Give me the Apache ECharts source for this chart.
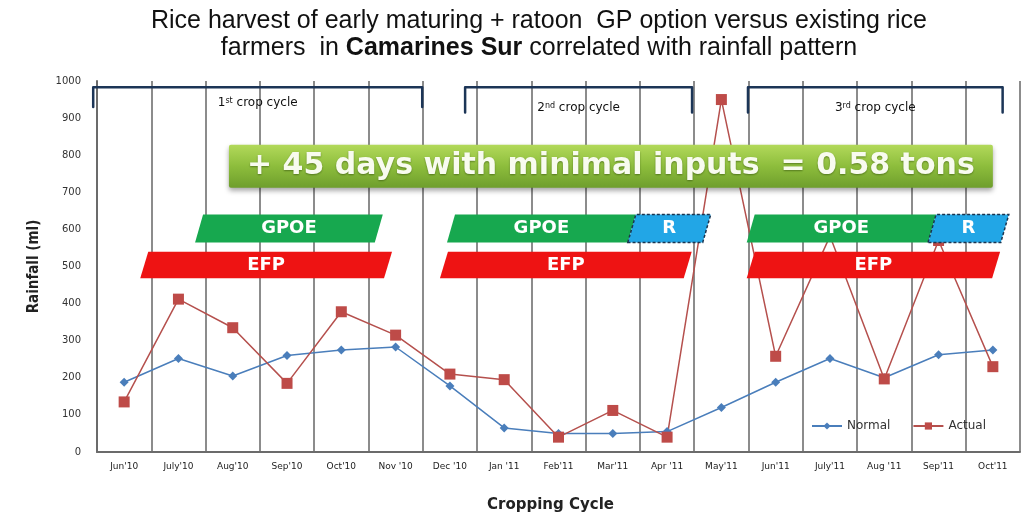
<!DOCTYPE html>
<html>
<head>
<meta charset="utf-8">
<title>Rainfall vs cropping cycle</title>
<script src="https://cdn.jsdelivr.net/npm/echarts@6.0.0/dist/echarts.min.js"></script>
<style>
  html, body { margin: 0; padding: 0; background: #fff; }
  #chart { width: 1022px; height: 518px; }
</style>
</head>
<body>
<div id="chart"></div>
<script>
// x axis months
var months = ["Jun'10", "July'10", "Aug'10", "Sep'10", "Oct'10", "Nov '10", "Dec '10", "Jan '11", "Feb'11",
  "Mar'11", "Apr '11", "May'11", "Jun'11", "July'11", "Aug '11", "Sep'11", "Oct'11"];
// rainfall (ml)
var normal = [188, 252, 205, 260, 275, 283, 178, 65, 50, 50, 55, 120, 188, 252, 200, 262, 275];
var actual = [135, 412, 335, 185, 378, 315, 210, 195, 40, 112, 40, 950, 258, 582, 197, 570, 230];
// y axis ticks
var yMin = 0, yMax = 1000, yStep = 100;

// annotations, x in month units (0 = left edge, 17 = right edge), y in ml
// [start, end, low, high]
var gpoeBands = [[1.88, 5.19, 565, 640], [6.52, 9.85, 565, 640], [12.04, 15.38, 565, 640]];
var ratoonBands = [[9.85, 11.23, 565, 640], [15.38, 16.72, 565, 640]];
var efpBands = [[0.87, 5.36, 468, 540], [6.39, 10.88, 468, 540], [12.04, 16.56, 468, 540]];
// [start, end, top, end of the drop, label y]
var cycleSpans = [[-0.07, 5.99, 983, 930, 941], [6.78, 10.96, 983, 915, 927], [11.99, 16.68, 983, 915, 927]];
var cycleNum = ['1', '2', '3'];
var cycleSuffix = ['st', 'nd', 'rd'];
var banner = [[2.43, 16.5, 712, 828]];
var bannerText = '+ 45 days with minimal inputs  = 0.58 tons';

var SKEW = 4;

// parallelogram phase bar
function bandItem (fill, label, dashed) {
  return function (params, api) {
    var a = api.coord([api.value(0), api.value(2)]);
    var b = api.coord([api.value(1), api.value(3)]);
    var pts = [[a[0] - SKEW, a[1]], [a[0] + SKEW, b[1]], [b[0] + SKEW, b[1]], [b[0] - SKEW, a[1]]];
    return {
      type: 'polygon',
      shape: { points: pts },
      style: {
        fill: fill,
        stroke: dashed ? '#1b3550' : null,
        lineWidth: dashed ? 1.5 : 0,
        lineDash: dashed ? [3, 2] : null
      },
      textContent: {
        style: { text: label, fill: '#fff', fontSize: 18, fontWeight: 'bold', fontFamily: 'DejaVu Sans' }
      },
      textConfig: { position: 'inside' }
    };
  };
}

function renderBanner (params, api) {
  var a = api.coord([api.value(0), api.value(2)]);
  var b = api.coord([api.value(1), api.value(3)]);
  return {
    type: 'rect',
    shape: { x: a[0], y: b[1], width: b[0] - a[0], height: a[1] - b[1], r: 2 },
    style: {
      fill: new echarts.graphic.LinearGradient(0, 0, 0, 1, [
        { offset: 0, color: '#b2d95a' },
        { offset: 0.5, color: '#8dbd3c' },
        { offset: 1, color: '#6e9e2c' }
      ]),
      shadowBlur: 5,
      shadowOffsetY: 3,
      shadowColor: 'rgba(0,0,0,0.35)'
    },
    textContent: {
      style: {
        text: bannerText, fill: '#f8fbef', fontSize: 30, fontWeight: 'bold', fontFamily: 'DejaVu Sans',
        textShadowColor: 'rgba(50,80,10,0.6)', textShadowBlur: 2, textShadowOffsetY: 1
      }
    },
    textConfig: { position: 'inside' }
  };
}

function renderBracket (params, api) {
  var x0 = api.value(0), x1 = api.value(1);
  var p0 = api.coord([x0, api.value(3)]);
  var p1 = api.coord([x0, api.value(2)]);
  var p2 = api.coord([x1, api.value(2)]);
  var p3 = api.coord([x1, api.value(3)]);
  var ly = api.coord([x0, api.value(4)])[1];
  var i = params.dataIndex;
  return {
    type: 'group',
    children: [{
      type: 'polyline',
      shape: { points: [p0, p1, p2, p3] },
      style: { stroke: '#1c3557', lineWidth: 2.5, fill: null, lineJoin: 'round', lineCap: 'round' }
    }, {
      type: 'text',
      x: (p1[0] + p2[0]) / 2,
      y: ly,
      style: {
        text: '{n|' + cycleNum[i] + '}{s|' + cycleSuffix[i] + '}{n| crop cycle}',
        align: 'center',
        verticalAlign: 'middle',
        rich: {
          n: { fontSize: 12, fill: '#111', fontFamily: 'DejaVu Sans' },
          s: { fontSize: 8, fill: '#111', fontFamily: 'DejaVu Sans', verticalAlign: 'top' }
        }
      }
    }]
  };
}

var chart = echarts.init(document.getElementById('chart'));
var option = {
  backgroundColor: '#fff',
  animation: false,
  title: {
    text: 'Rice harvest of early maturing + ratoon  GP option versus existing rice\nfarmers  in {b|Camarines Sur} correlated with rainfall pattern',
    left: 534,
    top: 3,
    textAlign: 'center',
    textStyle: {
      fontSize: 25,
      fontWeight: 'normal',
      color: '#111',
      lineHeight: 27,
      fontFamily: 'Liberation Sans',
      rich: {
        b: { fontSize: 25, fontWeight: 'bold', color: '#111', lineHeight: 27, fontFamily: 'Liberation Sans' }
      }
    }
  },
  legend: {
    data: ['Normal', 'Actual'],
    left: 806,
    top: 415,
    itemWidth: 30,
    itemHeight: 9,
    itemGap: 22,
    textStyle: { fontSize: 12, color: '#333', fontFamily: 'DejaVu Sans' }
  },
  grid: { left: 97, right: 2, top: 81, bottom: 65 },
  xAxis: [{
    type: 'category',
    data: months,
    boundaryGap: true,
    name: 'Cropping Cycle',
    nameLocation: 'middle',
    nameGap: 46,
    nameTextStyle: { fontSize: 15, fontWeight: 'bold', color: '#222', fontFamily: 'DejaVu Sans', padding: [0, 16, 0, 0] },
    axisLine: { lineStyle: { color: '#6b6b6b', width: 2 } },
    axisTick: { show: false },
    axisLabel: { interval: 0, fontSize: 9, color: '#222', margin: 10, fontFamily: 'DejaVu Sans' },
    splitLine: { show: true, interval: 0, lineStyle: { color: '#8c8c8c', width: 2 } }
  }, {
    type: 'value',
    min: 0,
    max: months.length,
    show: false
  }],
  yAxis: {
    type: 'value',
    min: yMin,
    max: yMax,
    interval: yStep,
    name: 'Rainfall (ml)',
    nameLocation: 'middle',
    nameGap: 55,
    nameTextStyle: { fontSize: 15, fontWeight: 'bold', color: '#222', fontFamily: "'DejaVu Sans Condensed', 'Liberation Sans', sans-serif" },
    axisLine: { show: true, lineStyle: { color: '#6b6b6b', width: 2 } },
    axisTick: { show: false },
    axisLabel: {
      fontSize: 10, color: '#333', margin: 16, fontFamily: 'DejaVu Sans',
      formatter: function (v) { return String(v); }
    },
    splitLine: { show: false }
  },
  series: [{
    name: 'Normal',
    type: 'line',
    data: normal,
    z: 2,
    symbol: 'diamond',
    symbolSize: 9,
    color: '#4a7ebb',
    lineStyle: { width: 1.5, color: '#4a7ebb' },
    itemStyle: { color: '#4a7ebb' }
  }, {
    name: 'Actual',
    type: 'line',
    data: actual,
    z: 2,
    symbol: 'rect',
    symbolSize: 11,
    color: '#be4b48',
    lineStyle: { width: 1.5, color: '#b5504d' },
    itemStyle: { color: '#be4b48' }
  }, {
    type: 'custom',
    xAxisIndex: 1,
    z: 5,
    silent: true,
    renderItem: renderBracket,
    data: cycleSpans
  }, {
    type: 'custom',
    xAxisIndex: 1,
    z: 5,
    silent: true,
    renderItem: renderBanner,
    data: banner
  }, {
    type: 'custom',
    xAxisIndex: 1,
    z: 5,
    silent: true,
    renderItem: bandItem('#17a84f', 'GPOE', false),
    data: gpoeBands
  }, {
    type: 'custom',
    xAxisIndex: 1,
    z: 6,
    silent: true,
    renderItem: bandItem('#22a6e6', 'R', true),
    data: ratoonBands
  }, {
    type: 'custom',
    xAxisIndex: 1,
    z: 5,
    silent: true,
    renderItem: bandItem('#ee1313', 'EFP', false),
    data: efpBands
  }]
};
chart.setOption(option);
window.addEventListener('resize', function () { chart.resize(); });
</script>
</body>
</html>
